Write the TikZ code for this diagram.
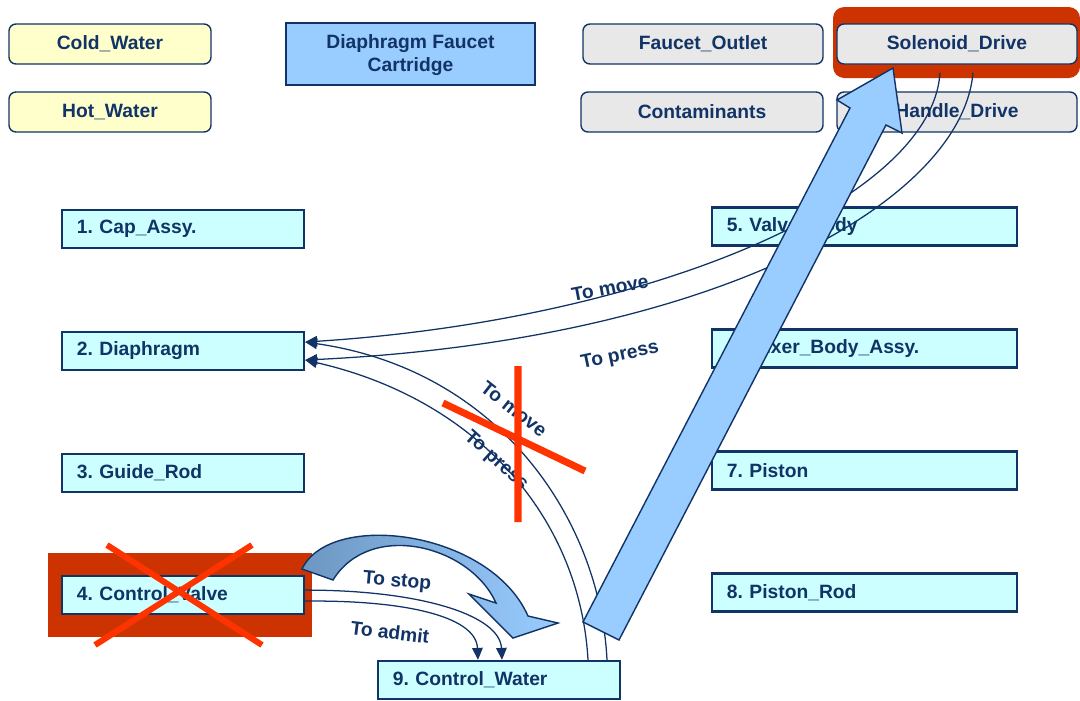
\documentclass[tikz,border=0pt]{standalone}
\usepackage{fontspec}
\setmainfont{Liberation Sans}
\usepackage{xcolor}
\usetikzlibrary{arrows.meta,positioning,calc}
\frenchspacing

\definecolor{navy}{HTML}{113366}
\definecolor{partfill}{HTML}{CCFFFF}
\definecolor{waterfill}{HTML}{FFFFCC}
\definecolor{greyfill}{HTML}{E8E8E8}
\definecolor{skyfill}{HTML}{99CCFF}
\definecolor{steelfill}{HTML}{76A2CC}
\definecolor{hilite}{HTML}{CC3300}
\definecolor{cross}{HTML}{FF3300}

\newcommand{\lbl}{\bfseries\fontsize{13.7}{16}\selectfont}

\begin{document}
\begin{tikzpicture}[x=0.025cm, y=-0.025cm, node distance=3.05cm,
    every node/.style={text=navy, font=\lbl},
    part/.style={draw=navy, line width=1.6pt, fill=partfill, minimum height=0.95cm, text width=5.3cm, inner xsep=0.375cm, align=left},
    widepart/.style={part, text width=6.875cm},
    flowbox/.style={draw=navy, line width=1pt, rounded corners=5pt, minimum width=5.05cm, minimum height=1cm},
    flow/.style={draw=navy, line width=0.9pt, -{Triangle[length=8.5pt,width=7.5pt]}}]
    \useasboundingbox (0,0) rectangle (1080,700);

    % Highlights
    \fill[hilite, rounded corners=8pt] (833,7) rectangle (1080,78);
    \fill[hilite] (48,553) rectangle (312,637);

    % Flows and title
    \node[flowbox, fill=waterfill] (cold) at (110,44) {Cold\_Water};
    \node[flowbox, fill=waterfill] (hot) at (110,112) {Hot\_Water};
    \node[draw=navy, line width=1.6pt, fill=skyfill, minimum width=6.225cm, minimum height=1.55cm, align=center] (cart) at (410.5,54) {\strut Diaphragm Faucet\\Cartridge};
    \node[flowbox, fill=greyfill, minimum width=6cm] (outlet) at (703,44) {Faucet\_Outlet};
    \node[flowbox, fill=greyfill, minimum width=6.05cm] (contam) at (702,112) {Contaminants};
    \node[flowbox, fill=greyfill, minimum width=6cm] (sol) at (957,44) {Solenoid\_Drive};
    \node[flowbox, fill=greyfill, minimum width=6cm] (handle) at (957,112) {Handle\_Drive};

    % Parts
    \node[part] (cap) at (183,229) {1. Cap\_Assy.};
    \node[part, below of=cap] (dia) {2. Diaphragm};
    \node[part, below of=dia] (guide) {3. Guide\_Rod};
    \node[part, below of=guide] (cv) {4. Control\_Valve};
    \node[widepart] (valve) at (864.5,226.5) {5. Valve\_Body};
    \node[widepart, below of=valve] (mixer) {6. Mixer\_Body\_Assy.};
    \node[widepart, below of=mixer] (piston) {7. Piston};
    \node[widepart, below of=piston] (rod) {8. Piston\_Rod};
    \node[part] (cw) at (499,680) {9. Control\_Water};

    % Functions
    \draw[flow] ($(sol.south)+(-17,8)$) .. controls (932,200) and (650,320) .. ($(dia.east)+(0,-9)$);
    \draw[flow] ($(sol.south)+(16,8)$) .. controls (962,200) and (720,340) .. ($(dia.east)+(0,9)$);
    \draw[flow] ($(cw.north)+(108,0)$) .. controls (600,520) and (500,370) .. ($(dia.east)+(0,-9)$);
    \draw[flow] ($(cw.north)+(89,0)$) .. controls (580,520) and (480,400) .. ($(dia.east)+(0,9)$);
    \draw[flow] ($(cv.east)+(0,-5)$) .. controls (420,590) and (500,615) .. ($(cw.north)+(3,0)$);
    \draw[flow] ($(cv.east)+(0,6)$) .. controls (400,600) and (476,615) .. ($(cw.north)+(-21,0)$);

    \node[rotate=11] (lmove) at (610,288) {To move};
    \node[rotate=12] (lpress) at (620,356) {To press};
    \node[rotate=-38] (lmovedia) at (514,409) {To move};
    \node[rotate=-42] (lpressdia) at (496,461) {To press};
    \node[rotate=-5] (lstop) at (397,582) {To stop};
    \node[rotate=-7] (ladmit) at (390,632) {To admit};

    % Block arrows
    \draw[navy, line width=1pt, left color=steelfill!90!navy, right color=skyfill] (302,569) .. controls (330,510) and (490,530) .. (528,616) -- (558,623) -- (513,638) -- (469,594) -- (496,603) .. controls (470,545) and (370,520) .. (333,580) -- cycle;
    \draw[navy, line width=1pt, fill=skyfill] (583,622) -- (850,108) -- (837,100) -- (893,68) -- (902,133) -- (886,125) -- (619,640) -- cycle;

    % Crossed out
    \draw[cross, line width=4.3pt] (107,545) -- (262,645) (252,545) -- (95,645);
    \draw[cross, line width=5pt] (518,366) -- (518,522) (443,403) -- (585,471);

\end{tikzpicture}
\end{document}
